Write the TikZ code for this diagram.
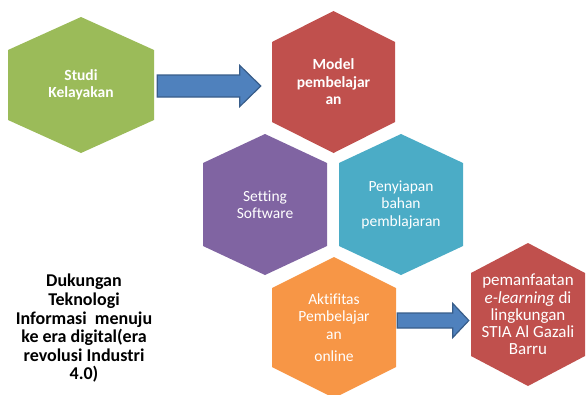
\documentclass[tikz,border=0pt]{standalone}
\usepackage{fontspec}
\setmainfont{Carlito}[Ligatures=NoCommon]
\usetikzlibrary{calc}
\definecolor{cgreen}{HTML}{9BBB59}
\definecolor{cred}{HTML}{C0504D}
\definecolor{cpurple}{HTML}{8064A2}
\definecolor{ccyan}{HTML}{4BACC6}
\definecolor{corange}{HTML}{F79646}
\definecolor{cblue}{HTML}{4F81BD}
\definecolor{cblueline}{HTML}{385D8A}
\tikzset{
  hextext/.style={text=white, align=center, inner sep=0pt, font=\fontsize{15.5}{17.5}\selectfont},
  bigtext/.style={font=\fontsize{17}{17.2}\selectfont},
  blockarrowstyle/.style={fill=cblue, draw=cblueline, line width=1.2pt, line join=miter},
  caption/.style={align=center, inner sep=0pt, font=\bfseries\fontsize{18}{18.6}\selectfont}
}
% name, cx, cy, w, h, t, colour, text
\newcommand\hexnode[9][]{%
  \fill[#8] (#3-#5/2,#4-#6/2+#7) -- (#3,#4-#6/2) -- (#3+#5/2,#4-#6/2+#7) -- (#3+#5/2,#4+#6/2-#7) -- (#3,#4+#6/2) -- (#3-#5/2,#4+#6/2-#7) -- cycle;
  \node[hextext, #1, minimum width=#5pt, minimum height=#6pt] (#2) at (#3,#4) {#9};}
% start, end, shaft half, head half, head length
\newcommand\blockarrow[5]{%
  \draw[blockarrowstyle] ($(#1)+(0,-#3)$) -- ($(#2)+(-#5,-#3)$) -- ($(#2)+(-#5,-#4)$) -- (#2) -- ($(#2)+(-#5,#4)$) -- ($(#2)+(-#5,#3)$) -- ($(#1)+(0,#3)$) -- cycle;}
\begin{document}
\begin{tikzpicture}[x=1pt,y=-1pt]
\useasboundingbox (0,0) rectangle (586,394);
\clip (0,0) rectangle (586,394);
\hexnode{studi}{81}{85}{146}{136}{33}{cgreen}{\bfseries Studi\\\bfseries Kelayakan}
\hexnode{model}{333.5}{82}{123}{142}{31}{cred}{\bfseries Model\\\bfseries pembelajar\\\bfseries an}
\hexnode{setting}{265}{204.5}{124}{141}{29}{cpurple}{Setting\\Software}
\hexnode{penyiapan}{401}{204.5}{124}{141}{29}{ccyan}{Penyiapan\\bahan\\pemblajaran}
\hexnode{aktifitas}{334}{327.5}{124}{141}{31}{corange}{Aktifitas\\Pembelajar\\an\\[5pt]online}
\hexnode[bigtext]{pemanfaatan}{528}{314.5}{114}{143}{30}{cred}{pemanfaatan\\\textit{e-learning} di\\lingkungan\\STIA Al Gazali\\Barru}
\node[caption] (dukungan) at (84,328.5) {Dukungan\\Teknologi\\Informasi\ \ menuju\\ke era digital(era\\revolusi Industri\\4.0)};
\coordinate (a1s) at ($(studi.east)+(3,1)$);
\coordinate (a1e) at ($(a1s -| model.west)+(-11,0)$);
\blockarrow{a1s}{a1e}{11}{20.5}{21}
\coordinate (a2s) at ($(aktifitas.east)+(1,-7)$);
\coordinate (a2e) at ($(a2s -| pemanfaatan.west)+(-2,0)$);
\blockarrow{a2s}{a2e}{7.5}{17}{16}
\end{tikzpicture}
\end{document}
